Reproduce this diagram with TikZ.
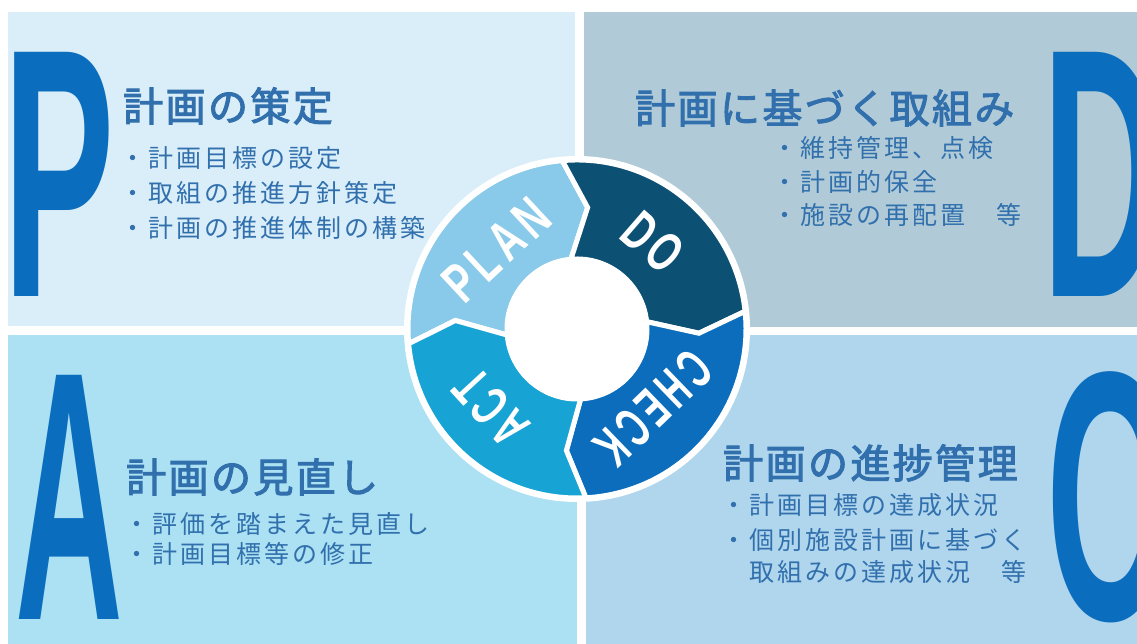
\documentclass[tikz,border=0pt]{standalone}
\usepackage{fontspec}
\newfontfamily\jpbody[LetterSpace=12]{Noto Sans CJK JP}
\newfontfamily\jphead[LetterSpace=6,FakeBold=2.5]{Noto Sans CJK JP}
\newfontfamily\bigfam{Liberation Sans}
\newfontfamily\ringfam[LetterSpace=15]{Liberation Sans}
\definecolor{panelTL}{HTML}{DAEEF9}
\definecolor{panelTR}{HTML}{B0CBD7}
\definecolor{panelBL}{HTML}{ABE1F2}
\definecolor{panelBR}{HTML}{B0D6EE}
\definecolor{bigcol}{HTML}{0A6DBD}
\definecolor{txtcol}{HTML}{3170AD}
\definecolor{plancol}{HTML}{89C9E9}
\definecolor{docol}{HTML}{0C5073}
\definecolor{checkcol}{HTML}{0B6DBB}
\definecolor{actcol}{HTML}{17A3D4}
\tikzset{
  bigletter/.style={inner sep=0pt, anchor=base west, text=bigcol,
    font=\bigfam\bfseries\fontsize{355}{355}\selectfont},
  headtxt/.style={inner sep=0pt, anchor=base west, text=txtcol,
    font=\jphead\fontsize{40}{40}\selectfont},
  bodytxt/.style={inner sep=0pt, anchor=base west, text=txtcol,
    font=\jpbody\fontsize{25}{25}\selectfont},
  ringlabel/.style={inner sep=0pt, text=white,
    font=\ringfam\bfseries\fontsize{56}{56}\selectfont},
  segment/.style={draw=white, line width=5pt, line join=miter},
}
\begin{document}
\begin{tikzpicture}[x=1pt,y=1pt]
\useasboundingbox (0,0) rectangle (1137,644);
\fill[white] (0,0) rectangle (1137,644);
\begin{scope}
\clip (0,0) rectangle (1137,644);
% panels
\fill[panelTL] (8,318) rectangle (575,632);
\fill[panelTR] (584,317) rectangle (1137,632);
\fill[panelBL] (8,0) rectangle (577,309);
\fill[panelBR] (586,0) rectangle (1137,309);
% big letters
\node[bigletter] (bigP) at (2.8,347) {\scalebox{0.47}[1]{P}};
\node[bigletter] (bigD) at (1041.8,347) {\scalebox{0.47}[1]{D}};
\node[bigletter] (bigA) at (15,24) {\scalebox{0.42}[1]{A}};
\node[bigletter] (bigC) at (1046.7,24) {\scalebox{0.47}[1]{C}};
\end{scope}
% texts: PLAN
\node[headtxt] (hP) at (123,522.8) {計画の策定};
\node[bodytxt] (p1) at (120.5,476.5) {・計画目標の設定};
\node[bodytxt] (p2) at (120.5,441.5) {・取組の推進方針策定};
\node[bodytxt] (p3) at (120.5,406.5) {・計画の推進体制の構築};
% DO
\node[headtxt] (hD) at (635,520.8) {計画に基づく取組み};
\node[bodytxt] (d1) at (772.5,486.5) {・維持管理、点検};
\node[bodytxt] (d2) at (772.5,452.5) {・計画的保全};
\node[bodytxt] (d3) at (772.5,419.5) {・施設の再配置　等};
% CHECK
\node[headtxt] (hC) at (723,165.8) {計画の進捗管理};
\node[bodytxt] (c1) at (721.5,129.5) {・計画目標の達成状況};
\node[bodytxt] (c2) at (721.5,94.5) {・個別施設計画に基づく};
\node[bodytxt] (c3) at (721.5,62.5) {　取組みの達成状況　等};
% ACT
\node[headtxt] (hA) at (126,151.8) {計画の見直し};
\node[bodytxt] (a1) at (124.5,110.5) {・評価を踏まえた見直し};
\node[bodytxt] (a2) at (124.5,80.5) {・計画目標等の修正};
% ring
\begin{scope}[shift={(577,315)}]
\fill[white] (0,0) circle[radius=173];
\filldraw[segment, fill=plancol] (185:169) arc[start angle=185, end angle=95, radius=169]
  -- (85:122) -- (95:70) arc[start angle=95, end angle=185, radius=70] -- (176:122) -- cycle;
\filldraw[segment, fill=docol] (95:169) arc[start angle=95, end angle=6, radius=169]
  -- (-2:122) -- (6:70) arc[start angle=6, end angle=95, radius=70] -- (85:122) -- cycle;
\filldraw[segment, fill=checkcol] (6:169) arc[start angle=6, end angle=-87, radius=169]
  -- (-95:122) -- (-87:70) arc[start angle=-87, end angle=6, radius=70] -- (-2:122) -- cycle;
\filldraw[segment, fill=actcol] (-87:169) arc[start angle=-87, end angle=-175, radius=169]
  -- (-184:122) -- (-175:70) arc[start angle=-175, end angle=-87, radius=70] -- (-95:122) -- cycle;
\fill[white] (0,0) circle[radius=72];
\node[ringlabel, rotate=43] (lplan) at (135.4:113) {\scalebox{0.69}[1]{PLAN}};
\node[ringlabel, rotate=-41] (ldo) at (48.9:115) {\scalebox{0.65}[1]{DO}};
\node[ringlabel, rotate=-136] (lcheck) at (-46:110) {\scalebox{0.59}[1]{CHECK}};
\node[ringlabel, rotate=132.6] (lact) at (222.6:117) {\scalebox{0.61}[1]{ACT}};
\end{scope}
\end{tikzpicture}
\end{document}
